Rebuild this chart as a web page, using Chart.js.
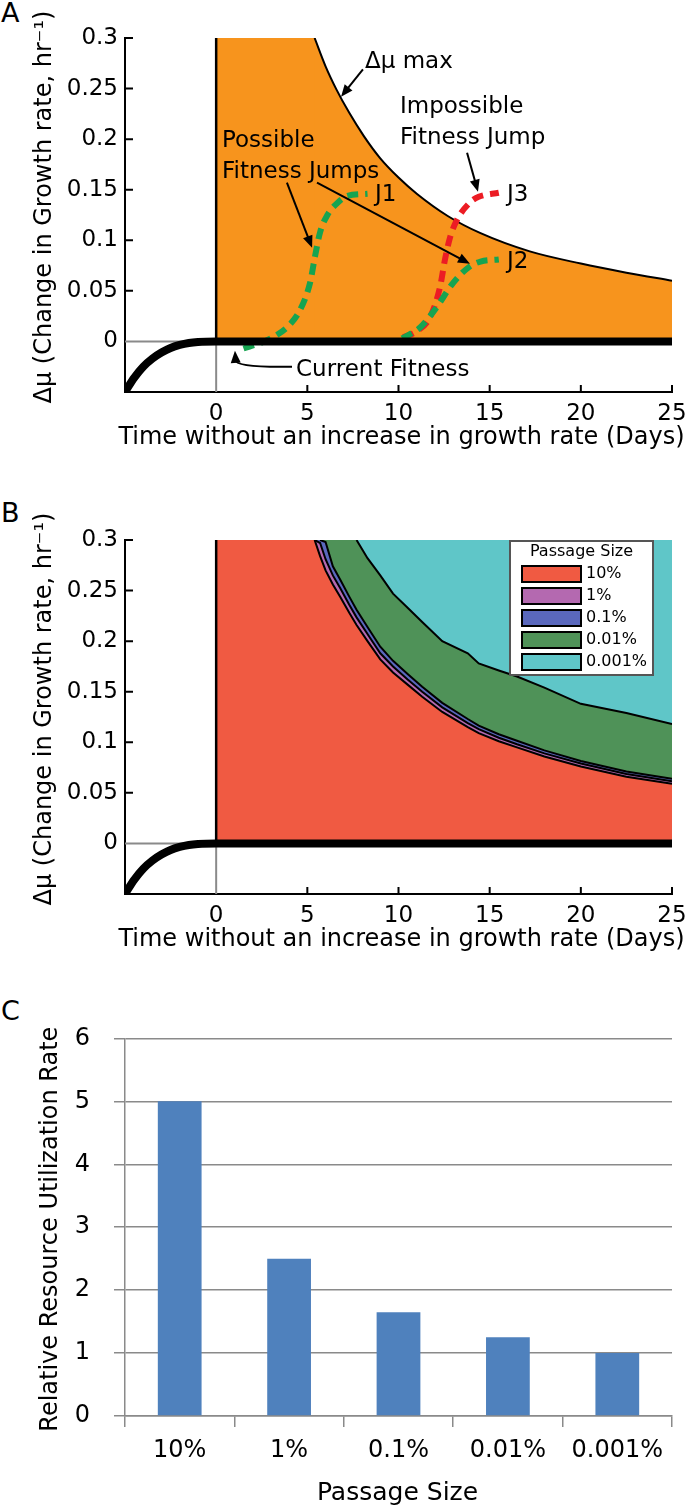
<!DOCTYPE html>
<html>
<head>
<meta charset="utf-8">
<script src="https://cdn.jsdelivr.net/npm/chart.js@4.4.1/dist/chart.umd.min.js"></script>
<style>
  body { margin: 0; background: #fff; width: 700px; height: 1509px; position: relative; overflow: hidden; }
  canvas { position: absolute; left: 0; }
  .tag { position: absolute; left: 1px; font: 27px 'DejaVu Sans', sans-serif; color: #000; }
</style>
</head>
<body>
<div class="tag" style="top:-3px">A</div>
<div class="tag" style="top:497px">B</div>
<div class="tag" style="top:995px">C</div>
<canvas id="chartA" style="top:0" width="700" height="460"></canvas>
<canvas id="chartB" style="top:502px" width="700" height="460"></canvas>
<canvas id="chartC" style="top:1000px" width="700" height="509"></canvas>
<script>
// ---- axis ticks (panels A and B) ----
const dayTicks = [0, 5, 10, 15, 20, 25];
const rateTicks = [0, 0.05, 0.1, 0.15, 0.2, 0.25, 0.3];
const rateTickLabels = ['0', '0.05', '0.1', '0.15', '0.2', '0.25', '0.3'];

// ---- current fitness (same in A and B) ----
const fitnessDays = [-5, -4.5, -4, -3.5, -3, -2.5, -2, -1.5, -1, 0, 25];
const fitnessRate = [-0.05, -0.036, -0.025, -0.017, -0.011, -0.0065, -0.0035, -0.0015, -0.0005, 0, 0];

// ---- panel A: max fitness jump ----
const ceilingDays = [0, 5.45];
const ceilingRate = [0.3, 0.3];
const maxDays = [5.4, 6.0, 6.6, 7.3, 8.1, 9, 10, 11, 12.7, 14.5, 17.2, 20, 22.5, 25];
const maxRate = [0.3, 0.272, 0.249, 0.226, 0.203, 0.181, 0.162, 0.146, 0.124, 0.107, 0.089, 0.077, 0.068, 0.06];

// jumps J1, J2 (possible) and J3 (impossible)
const j1Days = [1.5, 2.5, 3.3, 4.0, 4.6, 5.15, 5.42, 5.7, 6.1, 6.6, 7.2, 8.3];
const j1Rate = [-0.007, -0.001, 0.006, 0.016, 0.031, 0.058, 0.084, 0.108, 0.125, 0.136, 0.144, 0.146];
const j2Days = [10.2, 11.2, 12.1, 13.0, 13.9, 14.5, 15.5];
const j2Rate = [0.003, 0.014, 0.034, 0.058, 0.074, 0.079, 0.081];
const j3Days = [10.25, 11.0, 11.73, 12.28, 12.55, 12.83, 13.2, 13.9, 14.4, 15.5];
const j3Rate = [0.004, 0.01, 0.024, 0.054, 0.081, 0.103, 0.12, 0.137, 0.143, 0.147];

// ---- panel B: upper boundary of each passage size ----
const passageSizes = ['10%', '1%', '0.1%', '0.01%', '0.001%'];
const bandDays = [0, 5.4, 5.7, 6.0, 6.4, 6.8, 7.3, 7.7, 8.3, 9.0, 9.7, 10.5, 11.3, 12.4, 13.8, 14.4, 15.5, 16.5, 18, 20, 22.5, 25];
const band10 = [0.3, 0.3, 0.284, 0.27, 0.256, 0.244, 0.228, 0.216, 0.2, 0.182, 0.169, 0.157, 0.145, 0.13, 0.115, 0.109, 0.101, 0.095, 0.086, 0.076, 0.066, 0.059];
const band1 = [0.3, 0.3, 0.297, 0.281, 0.265, 0.2525, 0.236, 0.2235, 0.207, 0.188, 0.175, 0.162, 0.15, 0.1345, 0.119, 0.113, 0.1045, 0.098, 0.089, 0.079, 0.0686, 0.0615];
const band01 = [0.3, 0.3, 0.3, 0.298, 0.274, 0.261, 0.244, 0.231, 0.214, 0.1945, 0.1805, 0.1675, 0.155, 0.139, 0.123, 0.1165, 0.108, 0.1015, 0.092, 0.0815, 0.0712, 0.064];
const band001 = [0.3, 0.3, 0.3, 0.3, 0.3, 0.3, 0.3, 0.3, 0.282, 0.265, 0.247, 0.233, 0.219, 0.2, 0.188, 0.178, 0.171, 0.165, 0.154, 0.138, 0.129, 0.118];
const band0001 = [0.3, 0.3, 0.3, 0.3, 0.3, 0.3, 0.3, 0.3, 0.3, 0.3, 0.3, 0.3, 0.3, 0.3, 0.3, 0.3, 0.3, 0.3, 0.3, 0.3, 0.3, 0.3];
const bandColors = ['#f05a42', '#b469b0', '#5a68bd', '#4f9258', '#5fc6c8'];

// ---- panel C ----
const utilizationRate = [5, 2.5, 1.65, 1.25, 1.0];

const pts = (xs, ys) => xs.map((x, i) => ({ x: x, y: ys[i] }));

Chart.defaults.font.family = "'DejaVu Sans', sans-serif";
Chart.defaults.color = '#000';

const orange = '#f7941d';
const green = '#16a451';
const red = '#ec1c24';
const grey = '#8a8a8a';

// ticks point into the plot in panels A and B
const inwardTicks = {
  id: 'inwardTicks',
  afterDatasetsDraw(chart) {
    const { ctx, chartArea, scales: { x, y } } = chart;
    ctx.save();
    ctx.strokeStyle = '#000';
    ctx.lineWidth = 2;
    ctx.beginPath();
    x.ticks.forEach(t => {
      if (t.value === 0) return;
      const p = x.getPixelForValue(t.value);
      ctx.moveTo(p, chartArea.bottom);
      ctx.lineTo(p, chartArea.bottom - 7);
    });
    y.ticks.forEach(t => {
      if (t.value === 0) return;
      const p = y.getPixelForValue(t.value);
      ctx.moveTo(chartArea.left, p);
      ctx.lineTo(chartArea.left + 8, p);
    });
    ctx.stroke();
    ctx.restore();
  }
};

// axis titles drawn at full width (the scale title would squeeze them into the axis length)
const axisTitles = {
  id: 'axisTitles',
  afterDraw(chart, args, opts) {
    const { ctx, chartArea } = chart;
    const midX = (chartArea.left + chartArea.right) / 2;
    const midY = (chartArea.top + chartArea.bottom) / 2;
    ctx.save();
    ctx.fillStyle = '#000';
    ctx.textAlign = 'center';
    ctx.textBaseline = 'middle';
    ctx.font = opts.xSize + "px 'DejaVu Sans'";
    ctx.fillText(opts.xText, midX + opts.xShift, chartArea.bottom + opts.xGap);
    ctx.translate(opts.yLeft, midY + opts.yShift);
    ctx.rotate(-Math.PI / 2);
    ctx.font = opts.ySize + "px 'DejaVu Sans'";
    ctx.fillText(opts.yText, 0, 0);
    ctx.restore();
  }
};

function arrowHead(ctx, x, y, ang) {
  const L = 12, W = 5;
  const c = Math.cos(ang), s = Math.sin(ang);
  ctx.beginPath();
  ctx.moveTo(x, y);
  ctx.lineTo(x - L * c + W * s, y - L * s - W * c);
  ctx.lineTo(x - L * c - W * s, y - L * s + W * c);
  ctx.closePath();
  ctx.fill();
}

function arrow(ctx, x1, y1, x2, y2) {
  const ang = Math.atan2(y2 - y1, x2 - x1);
  ctx.beginPath();
  ctx.moveTo(x1, y1);
  ctx.lineTo(x2 - 10 * Math.cos(ang), y2 - 10 * Math.sin(ang));
  ctx.stroke();
  arrowHead(ctx, x2, y2, ang);
}

// text and arrows of panel A, placed in data units
const notesA = [
  ['Δμ max', 8.16, 0.2766],
  ['Impossible', 10.08, 0.232],
  ['Fitness Jump', 10.08, 0.2013],
  ['Possible', 0.32, 0.1984],
  ['Fitness Jumps', 0.32, 0.1678],
  ['J1', 8.71, 0.145],
  ['J3', 15.95, 0.145],
  ['J2', 15.95, 0.0788],
  ['Current Fitness', 4.38, -0.028]
];
const arrowsA = [
  [8.05, 0.269, 6.85, 0.242],
  [13.76, 0.1866, 14.36, 0.148],
  [3.88, 0.157, 5.26, 0.0927],
  [5.53, 0.157, 13.92, 0.0768]
];

const annotationsA = {
  id: 'annotationsA',
  afterDatasetsDraw(chart) {
    const { ctx, scales: { x, y } } = chart;
    const px = t => x.getPixelForValue(t);
    const py = v => y.getPixelForValue(v);
    ctx.save();
    ctx.fillStyle = '#000';
    ctx.strokeStyle = '#000';
    ctx.lineWidth = 2;
    ctx.font = "23px 'DejaVu Sans'";
    ctx.textBaseline = 'middle';
    ctx.textAlign = 'left';
    notesA.forEach(n => ctx.fillText(n[0], px(n[1]), py(n[2])));
    arrowsA.forEach(a => arrow(ctx, px(a[0]), py(a[1]), px(a[2]), py(a[3])));
    // curved arrow to current fitness
    const sx = px(4.16), sy = py(-0.025);
    const cx = px(1.09), cy = py(-0.026);
    const ex = px(1.03), ey = py(-0.0093);
    ctx.beginPath();
    ctx.moveTo(sx, sy);
    ctx.quadraticCurveTo(cx, cy, ex, ey + 9);
    ctx.stroke();
    arrowHead(ctx, ex, ey, Math.atan2(ey - cy, ex - cx));
    ctx.restore();
  }
};

const legendB = {
  id: 'legendB',
  afterDraw(chart) {
    const { ctx, chartArea } = chart;
    const bx = chartArea.right - 162, by = chartArea.top + 1, bw = 143, bh = 134;
    ctx.save();
    ctx.fillStyle = '#fff';
    ctx.fillRect(bx, by, bw, bh);
    ctx.strokeStyle = '#555';
    ctx.lineWidth = 2;
    ctx.strokeRect(bx, by, bw, bh);
    ctx.fillStyle = '#000';
    ctx.font = "16px 'DejaVu Sans'";
    ctx.textBaseline = 'middle';
    ctx.textAlign = 'center';
    ctx.fillText('Passage Size', bx + bw / 2, by + 11);
    ctx.textAlign = 'left';
    passageSizes.forEach((label, i) => {
      const ry = by + 33 + i * 22;
      ctx.fillStyle = bandColors[i];
      ctx.fillRect(bx + 12, ry - 8, 59, 16);
      ctx.strokeStyle = '#000';
      ctx.lineWidth = 2;
      ctx.strokeRect(bx + 12, ry - 8, 59, 16);
      ctx.fillStyle = '#000';
      ctx.fillText(label, bx + 76, ry);
    });
    ctx.restore();
  }
};

function growthScales() {
  return {
    x: {
      type: 'linear', min: -5, max: 25,
      afterBuildTicks: s => { s.ticks = dayTicks.map(v => ({ value: v })); },
      ticks: { padding: 8, font: { size: 23 }, maxRotation: 0, autoSkip: false, callback: v => String(v) },
      grid: { display: false, drawTicks: false },
      border: { color: '#000', width: 2 },
      afterFit: s => { s.height = 68; }
    },
    y: {
      type: 'linear', min: -0.05, max: 0.3,
      afterBuildTicks: s => { s.ticks = rateTicks.map(v => ({ value: v })); },
      ticks: { padding: 7, font: { size: 23 }, autoSkip: false, callback: (v, i) => rateTickLabels[i] },
      grid: { display: false, drawTicks: false },
      border: { color: '#000', width: 2 },
      afterFit: s => { s.width = 125; }
    }
  };
}

const growthTitles = {
  xText: 'Time without an increase in growth rate (Days)', xSize: 24, xShift: 3, xGap: 46,
  yText: 'Δμ (Change in Growth rate, hr⁻¹)', ySize: 24, yLeft: 45, yShift: -8
};

function baseLines() {
  return [
    { data: pts([0, 0], [0, 0.3]), borderColor: '#000', borderWidth: 2.5, order: 8 },
    { data: pts([-5, 0], [0, 0]), borderColor: grey, borderWidth: 2, order: 7 },
    { data: pts([0, 0], [-0.05, 0]), borderColor: grey, borderWidth: 2, order: 7 },
    { data: pts(fitnessDays, fitnessRate), borderColor: '#000', borderWidth: 8, cubicInterpolationMode: 'monotone', order: 1 }
  ];
}

function growthOptions() {
  return {
    responsive: false,
    animation: false,
    events: [],
    elements: { point: { radius: 0 }, line: { fill: false } },
    plugins: {
      legend: { display: false },
      tooltip: { enabled: false },
      filler: { drawTime: 'beforeDatasetsDraw' },
      axisTitles: growthTitles
    },
    layout: { padding: { top: 38, right: 28, left: 0, bottom: 0 } },
    scales: growthScales()
  };
}

const dash = { borderWidth: 6, borderDash: [11, 7], borderCapStyle: 'butt', cubicInterpolationMode: 'monotone' };

new Chart(document.getElementById('chartA'), {
  type: 'line',
  data: {
    datasets: [
      { data: pts(ceilingDays, ceilingRate), borderWidth: 0, borderColor: 'rgba(0,0,0,0)', fill: 'origin', backgroundColor: orange, order: 10 },
      { data: pts(maxDays, maxRate), borderColor: '#000', borderWidth: 2, fill: 'origin', backgroundColor: orange, cubicInterpolationMode: 'monotone', order: 9 },
      Object.assign({ data: pts(j3Days, j3Rate), borderColor: red, order: 6 }, dash),
      Object.assign({ data: pts(j2Days, j2Rate), borderColor: green, order: 5 }, dash),
      Object.assign({ data: pts(j1Days, j1Rate), borderColor: green, order: 4 }, dash)
    ].concat(baseLines())
  },
  options: growthOptions(),
  plugins: [inwardTicks, annotationsA, axisTitles]
});

// panel B: five stacked fills (each fills down to the boundary below it)
const bandSeries = [band10, band1, band01, band001, band0001];
const bandFills = bandSeries.map((vals, i) => ({
  data: pts(bandDays, vals),
  borderWidth: 0,
  borderColor: 'rgba(0,0,0,0)',
  backgroundColor: bandColors[i],
  fill: i === 0 ? 'origin' : '-1',
  tension: 0,
  order: 20 - i
}));
// black outlines, left out where a boundary runs along the 0.3 top edge
const bandEdges = bandSeries.slice(0, 4).map(vals => ({
  data: pts(bandDays, vals.map((v, j) => (v < 0.3 || vals[j + 1] < 0.3) ? v : null)),
  borderColor: '#000',
  borderWidth: 2,
  tension: 0,
  order: 9
}));

new Chart(document.getElementById('chartB'), {
  type: 'line',
  data: { datasets: bandFills.concat(bandEdges, baseLines()) },
  options: growthOptions(),
  plugins: [inwardTicks, legendB, axisTitles]
});

new Chart(document.getElementById('chartC'), {
  type: 'bar',
  data: {
    labels: passageSizes,
    datasets: [{ data: utilizationRate, backgroundColor: '#4f81bd', barPercentage: 0.8, categoryPercentage: 0.5 }]
  },
  options: {
    responsive: false,
    animation: false,
    events: [],
    layout: { padding: { top: 26, right: 28, left: 0, bottom: 0 } },
    plugins: {
      legend: { display: false },
      tooltip: { enabled: false },
      axisTitles: { xText: 'Passage Size', xSize: 25, xShift: -1, xGap: 77, yText: 'Relative Resource Utilization Rate', ySize: 24, yLeft: 51, yShift: 2 }
    },
    scales: {
      x: {
        grid: { display: true, drawOnChartArea: false, tickLength: 11, color: grey, lineWidth: 1.5 },
        border: { color: grey, width: 1.5 },
        ticks: { padding: 9, font: { size: 24 } },
        afterFit: s => { s.height = 93; }
      },
      y: {
        min: 0, max: 6,
        ticks: { stepSize: 1, padding: 24, font: { size: 24 } },
        grid: { color: grey, lineWidth: 1.5, tickLength: 11 },
        border: { color: grey, width: 1.5 },
        afterFit: s => { s.width = 125; }
      }
    }
  },
  plugins: [axisTitles]
});
</script>
</body>
</html>
